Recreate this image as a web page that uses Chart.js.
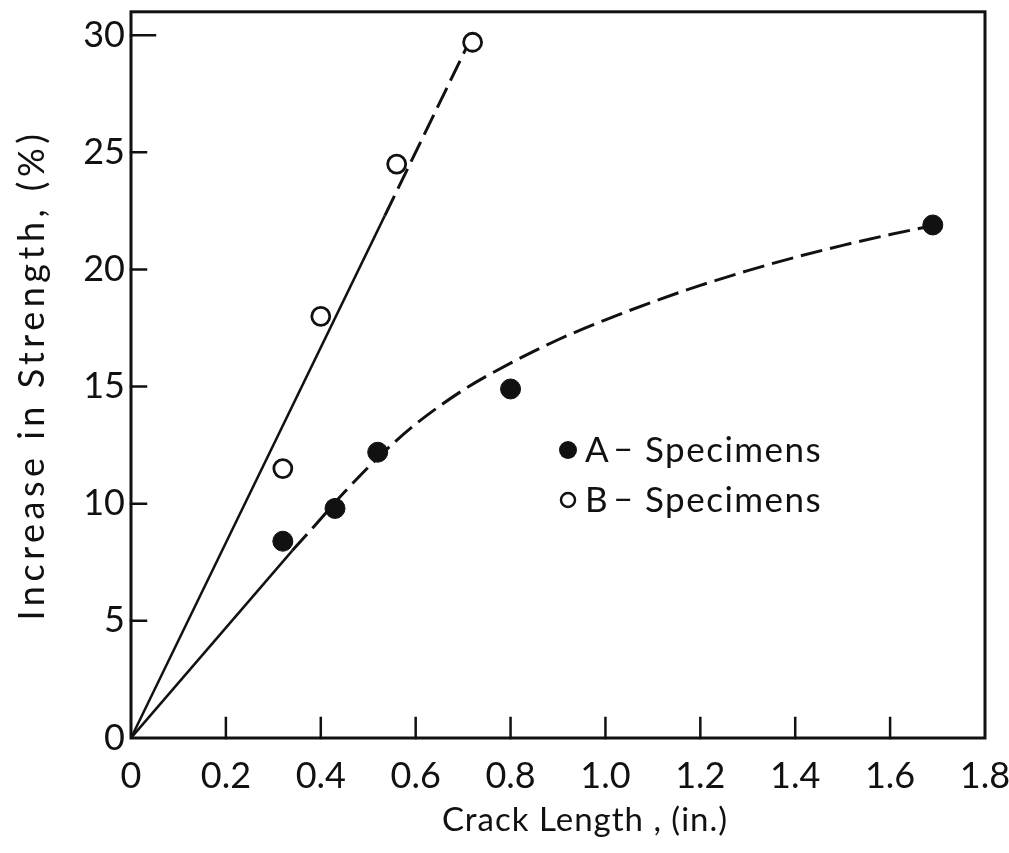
<!DOCTYPE html>
<html>
<head>
<meta charset="utf-8">
<script src="https://cdn.jsdelivr.net/npm/chart.js@4.4.1/dist/chart.umd.min.js"></script>
<style>
  html, body { margin: 0; padding: 0; background: #ffffff; }
  #wrap { width: 1009px; height: 853px; }
</style>
</head>
<body>
<div id="wrap"><canvas id="chart" width="1009" height="853"></canvas></div>
<script>
// Axis ticks and their printed labels
const xTicks = [0, 0.2, 0.4, 0.6, 0.8, 1.0, 1.2, 1.4, 1.6, 1.8];
const xTickLabels = ['0', '0.2', '0.4', '0.6', '0.8', '1.0', '1.2', '1.4', '1.6', '1.8'];
const yTicks = [0, 5, 10, 15, 20, 25, 30];
const yTickLabels = ['0', '5', '10', '15', '20', '25', '30'];

// Measured specimens: crack length (in.) vs. increase in strength (%)
const aCrack = [0.32, 0.43, 0.52, 0.80, 1.69];
const aStrength = [8.4, 9.8, 12.2, 14.9, 21.9];
const bCrack = [0.32, 0.40, 0.56, 0.72];
const bStrength = [11.5, 18.0, 24.5, 29.7];

// Faired curve through the A-specimens (solid near origin, dashed beyond)
const aFitSolidX = [0, 0.34];
const aFitSolidY = [0, 8.0];
const aFitDashX = [0.34, 0.38, 0.45, 0.53, 0.60, 0.70, 0.80, 0.90, 1.00, 1.10, 1.20, 1.30, 1.40, 1.50, 1.60, 1.69];
const aFitDashY = [8.0, 8.9, 10.5, 12.15, 13.4, 14.85, 16.0, 17.0, 17.85, 18.62, 19.32, 19.95, 20.52, 21.03, 21.49, 21.87];

// Straight line through the B-specimens
const bFitSolidX = [0, 0.535];
const bFitSolidY = [0, 22.3];
const bFitDashX = [0.535, 0.715];
const bFitDashY = [22.3, 29.8];

const INK = '#111111';
const FONT = 'Lato, "DejaVu Sans", sans-serif';

const pairs = (xs, ys) => xs.map((v, i) => ({ x: v, y: ys[i] }));

const lineSet = (xs, ys, dash, width) => ({
  data: pairs(xs, ys),
  showLine: true,
  borderColor: INK,
  borderWidth: width,
  borderDash: dash,
  pointRadius: 0,
  fill: false,
  tension: 0.4,
  cubicInterpolationMode: 'monotone',
  order: 2
});

// Box frame, inward tick marks, axis titles and the key
const framePlugin = {
  id: 'frame',
  beforeDatasetsDraw(chart) {
    const { ctx, chartArea: a, scales: { x, y } } = chart;
    ctx.save();
    ctx.strokeStyle = INK;
    ctx.lineCap = 'square';
    ctx.lineWidth = 3;
    ctx.strokeRect(a.left, a.top, a.right - a.left, a.bottom - a.top);
    ctx.lineWidth = 2.5;
    ctx.beginPath();
    xTicks.slice(1, -1).forEach(v => {
      const px = x.getPixelForValue(v);
      ctx.moveTo(px, a.bottom);
      ctx.lineTo(px, a.bottom - 20);
    });
    yTicks.slice(1).forEach(v => {
      const py = y.getPixelForValue(v);
      ctx.moveTo(a.left, py);
      ctx.lineTo(a.left + (v === 30 ? 24 : 15), py);
    });
    ctx.stroke();
    ctx.restore();
  },
  afterDraw(chart) {
    const { ctx } = chart;
    ctx.save();
    ctx.fillStyle = INK;
    ctx.textBaseline = 'middle';

    // x-axis title
    ctx.letterSpacing = '1px';
    ctx.font = '33px ' + FONT;
    ctx.textAlign = 'center';
    ctx.fillText('Crack Length , (in.)', 585, 820);

    // y-axis title
    ctx.save();
    ctx.letterSpacing = '4.5px';
    ctx.font = '36px ' + FONT;
    ctx.translate(32, 375);
    ctx.rotate(-Math.PI / 2);
    ctx.fillText('Increase in Strength, (%)', 0, 0);
    ctx.restore();

    // key
    ctx.textAlign = 'left';
    ctx.letterSpacing = '1.5px';
    ctx.font = '35px ' + FONT;
    ctx.beginPath();
    ctx.arc(568, 450, 9, 0, Math.PI * 2);
    ctx.fill();
    ctx.fillText('A', 585, 451);
    ctx.fillText('–', 613, 449);
    ctx.fillText('Specimens', 645, 451);
    ctx.beginPath();
    ctx.lineWidth = 2.5;
    ctx.strokeStyle = INK;
    ctx.arc(568, 500, 7, 0, Math.PI * 2);
    ctx.stroke();
    ctx.fillText('B', 585, 501);
    ctx.fillText('–', 613, 499);
    ctx.fillText('Specimens', 645, 501);
    ctx.restore();
  }
};

new Chart(document.getElementById('chart'), {
  type: 'scatter',
  data: {
    datasets: [
      {
        label: 'A - Specimens',
        data: pairs(aCrack, aStrength),
        pointStyle: 'circle',
        pointRadius: 10,
        pointBackgroundColor: INK,
        pointBorderColor: INK,
        pointBorderWidth: 1,
        order: 0
      },
      {
        label: 'B - Specimens',
        data: pairs(bCrack, bStrength),
        pointStyle: 'circle',
        pointRadius: 9,
        pointBackgroundColor: '#ffffff',
        pointBorderColor: INK,
        pointBorderWidth: 2.8,
        order: 0
      },
      lineSet(aFitSolidX, aFitSolidY, [], 2.5),
      lineSet(aFitDashX, aFitDashY, [22, 8], 3),
      lineSet(bFitSolidX, bFitSolidY, [], 2.5),
      lineSet(bFitDashX, bFitDashY, [22, 8], 3)
    ]
  },
  options: {
    responsive: false,
    animation: false,
    events: [],
    layout: { padding: { top: 10, right: 24, left: 0, bottom: 0 } },
    plugins: { legend: { display: false }, tooltip: { enabled: false } },
    scales: {
      x: {
        type: 'linear',
        min: 0,
        max: 1.8,
        afterBuildTicks: s => { s.ticks = xTicks.map(v => ({ value: v })); },
        afterFit: s => { s.height = 115; s.paddingLeft = 0; s.paddingRight = 0; },
        grid: { display: false, drawTicks: false },
        border: { display: false },
        ticks: {
          autoSkip: false,
          maxRotation: 0,
          padding: 17,
          color: INK,
          font: { family: FONT, size: 36 },
          callback: (v, i) => xTickLabels[i]
        }
      },
      y: {
        type: 'linear',
        min: 0,
        max: 31,
        afterBuildTicks: s => { s.ticks = yTicks.map(v => ({ value: v })); },
        afterFit: s => { s.width = 131; s.paddingTop = 0; s.paddingBottom = 0; },
        grid: { display: false, drawTicks: false },
        border: { display: false },
        ticks: {
          autoSkip: false,
          padding: 6,
          color: INK,
          font: { family: FONT, size: 36 },
          callback: (v, i) => yTickLabels[i]
        }
      }
    }
  },
  plugins: [framePlugin]
});
</script>
</body>
</html>
